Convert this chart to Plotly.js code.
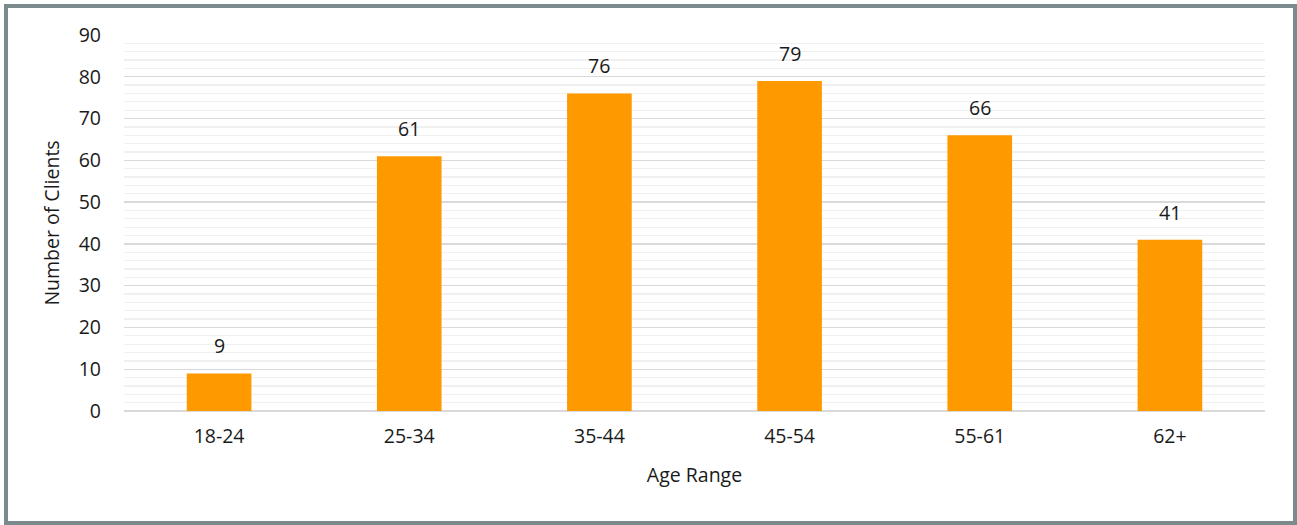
<!DOCTYPE html>
<html>
<head>
<meta charset="utf-8">
<script src="https://cdn.plot.ly/plotly-3.0.1.min.js"></script>
<style>
  html, body { margin: 0; padding: 0; background: #ffffff; }
  #wrap { position: relative; width: 1297px; height: 525px; overflow: hidden; }
  #chart { position: absolute; left: 0; top: 0; width: 1297px; height: 525px; }
  #frame { position: absolute; left: 4px; top: 4px; width: 1293px; height: 521px; box-sizing: border-box;
           border: 4.5px solid #7b8a8d; pointer-events: none; }
</style>
</head>
<body>
<div id="wrap">
  <div id="chart"></div>
  <div id="frame"></div>
</div>
<script>
const categories = ["18-24", "25-34", "35-44", "45-54", "55-61", "62+"];
const clients = [9, 61, 76, 79, 66, 41];
const yTicks = [0, 10, 20, 30, 40, 50, 60, 70, 80, 90];

const FONT = "'Open Sans', sans-serif";
const TXT = "#1a1a1a";
const FS = 19.5;

const trace = {
  type: "bar",
  x: categories,
  y: clients,
  marker: { color: "#ff9900", line: { width: 0 } },
  hoverinfo: "x+y"
};

const annotations = categories.map((c, i) => ({
  x: c, y: clients[i], xref: "x", yref: "y",
  text: String(clients[i]), showarrow: false,
  yanchor: "bottom", yshift: 12,
  font: { family: FONT, size: FS, color: TXT }
}));

const layout = {
  width: 1297, height: 525,
  margin: { l: 124, r: 32, t: 35, b: 114 },
  paper_bgcolor: "#ffffff",
  plot_bgcolor: "#ffffff",
  showlegend: false,
  bargap: 0.66,
  font: { family: FONT, size: FS, color: TXT },
  xaxis: {
    type: "category",
    tickfont: { family: FONT, size: FS, color: TXT },
    ticks: "", showline: false, showgrid: false, zeroline: false,
    ticklabelstandoff: 11,
    title: { text: "Age Range", font: { family: FONT, size: FS, color: TXT }, standoff: 20 }
  },
  yaxis: {
    range: [0, 90],
    tickvals: yTicks,
    ticktext: yTicks.map(String),
    tickfont: { family: FONT, size: FS, color: TXT },
    ticks: "",
    ticklabelstandoff: 22,
    showgrid: true, gridcolor: "#d9d9d9", gridwidth: 1.3,
    minor: { dtick: 2, showgrid: true, gridcolor: "#f0f0f0", gridwidth: 1.3 },
    zeroline: true, zerolinecolor: "#d9d9d9", zerolinewidth: 1.3,
    showline: false,
    title: { text: "Number of Clients", font: { family: FONT, size: FS, color: TXT }, standoff: 13 }
  },
  annotations: annotations
};

Plotly.newPlot("chart", [trace], layout, { displayModeBar: false, staticPlot: true });
</script>
</body>
</html>
